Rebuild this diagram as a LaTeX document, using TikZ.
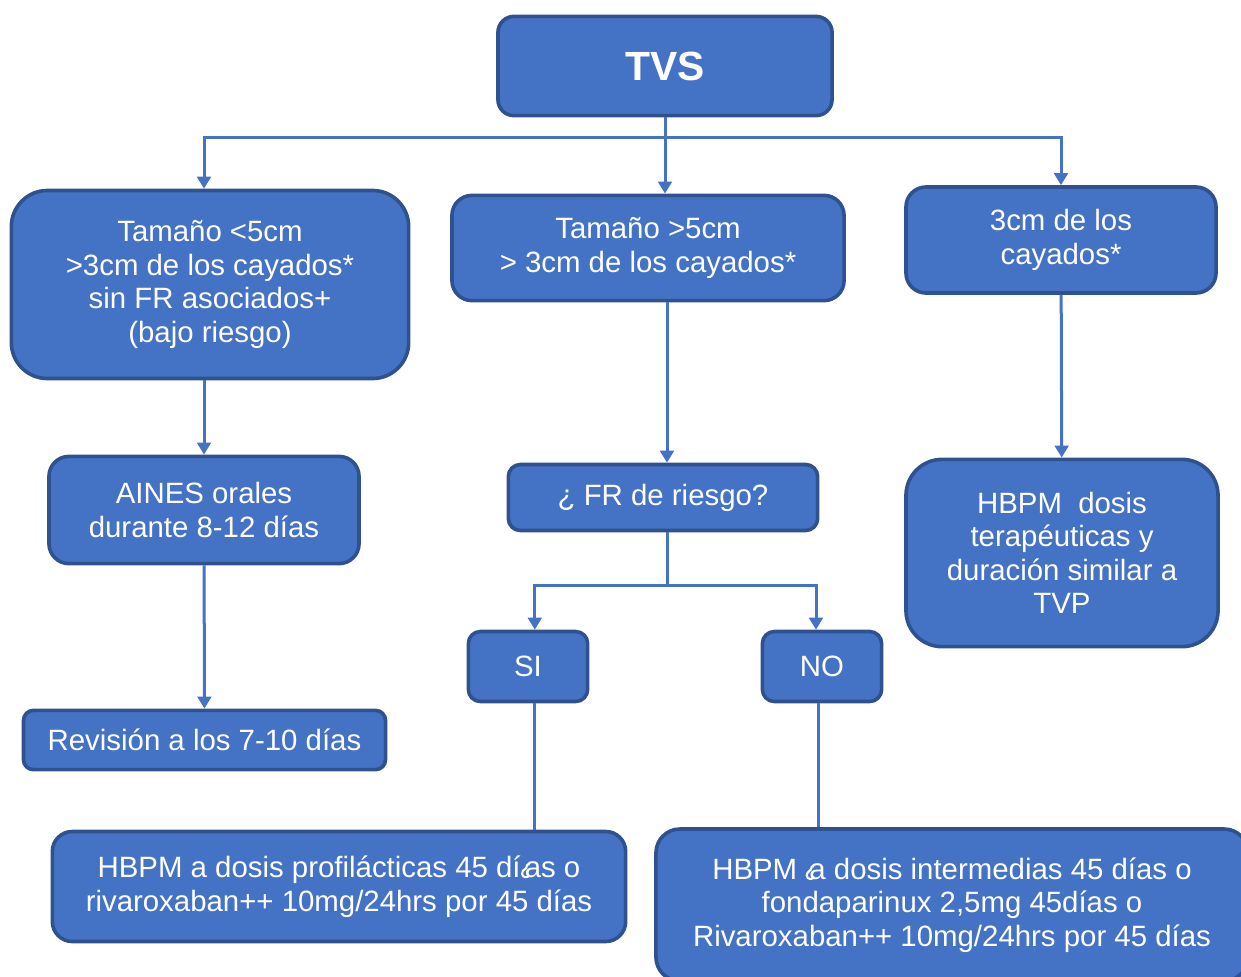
\documentclass[tikz,border=0pt]{standalone}
\usepackage{fontspec}
\setmainfont{Liberation Sans}
\usetikzlibrary{arrows.meta}
\definecolor{boxblue}{HTML}{4472C4}
\definecolor{edgeblue}{HTML}{2F528F}
\newsavebox\hookbox
\sbox\hookbox{\tikz[baseline=0pt, x=20pt, y=20pt]\draw[white, line width=1.5pt, line cap=round]
  (0.22,0.45) .. controls (0.22,0.27) and (0.03,0.3) .. (0.04,0.13) .. controls (0.06,-0.02) and (0.24,-0.01) .. (0.3,0.07);}
\newcommand\oddglyph{\usebox\hookbox\kern-4pt a}
\tikzset{
        box/.style={draw=edgeblue, fill=boxblue, line width=0.9mm, text=white, align=center,
          font=\fontsize{20.9}{23.8}\selectfont, inner sep=2pt},
        conn/.style={draw=boxblue, line width=0.75mm},
        arr/.style={conn, -{Triangle[width=3.4mm, length=3mm]}}
          }
\begin{document}
\begin{tikzpicture}[x=0.025cm, y=-0.025cm]
            \useasboundingbox (0,0) rectangle (1241,976);
            \node[box, rounded corners=4mm, minimum width=8.35cm, minimum height=2.48cm,
              font=\fontsize{29}{35}\selectfont\bfseries] (tvs) at (665,66) {TVS};
            \node[box, rounded corners=9mm, minimum width=9.93cm, minimum height=4.7cm] (lowrisk) at (210,284.5)
              {Tamaño <5cm\\>3cm de los cayados*\\sin FR asociados+\\(bajo riesgo)};
            \node[box, rounded corners=5mm, minimum width=9.8cm, minimum height=2.63cm] (big) at (648,248)
              {Tamaño >5cm\\> 3cm de los cayados*};
            \node[box, rounded corners=5mm, minimum width=7.75cm, minimum height=2.65cm] (near) at (1061,240)
              {3cm de los\\cayados*};
            \node[box, rounded corners=5mm, minimum width=7.75cm, minimum height=2.68cm] (aines) at (204,510)
              {AINES orales\\durante 8-12 días};
            \node[box, rounded corners=3mm, minimum width=7.73cm, minimum height=1.65cm] (fr) at (663,497.5)
              {¿ FR de riesgo?};
            \node[box, rounded corners=9mm, minimum width=7.8cm, minimum height=4.68cm] (terap) at (1062,553)
              {HBPM\ \ dosis\\terapéuticas y\\duración similar a\\TVP};
            \node[box, rounded corners=3mm, minimum width=2.98cm, minimum height=1.75cm] (si) at (528,666.5) {SI};
            \node[box, rounded corners=3mm, minimum width=2.98cm, minimum height=1.75cm] (no) at (822,666.5) {NO};
            \node[box, rounded corners=2.5mm, minimum width=9.05cm, minimum height=1.48cm] (rev) at (204.5,740)
              {Revisión a los 7-10 días};
            \node[box, rounded corners=5mm, minimum width=14.33cm, minimum height=2.75cm] (prof) at (339,886.5)
              {HBPM a dosis profilácticas 45 dí\oddglyph s o\\rivaroxaban++ 10mg/24hrs por 45 días};
            \node[box, rounded corners=6mm, minimum width=14.8cm, minimum height=3.8cm] (inter) at (952,905)
              {HBPM \oddglyph\ dosis intermedias 45 días o\\fondaparinux 2,5mg 45días o\\Rivaroxaban++ 10mg/24hrs por 45 días};
            \coordinate (hub) at (665,137.5);
            \coordinate (split) at (667,585);
            \draw[conn] (tvs) -- (hub);
            \draw[arr] (hub) -| (lowrisk.north -| aines.north);
            \draw[arr] (hub) -- (hub |- big.north);
            \draw[arr] (hub) -| (near.north);
            \draw[arr] (aines.north |- lowrisk.south) -- (aines.north);
            \draw[arr] (aines) -- (rev);
            \draw[arr] (big.south -| split) -- (fr.north -| split);
            \draw[arr] (near) -- (terap);
            \draw[conn] (fr.south -| split) -- (split);
            \draw[arr] (split) -| ([xshift=0.17cm]si.north);
            \draw[arr] (split) -| ([xshift=-0.15cm]no.north);
            \draw[conn] ([xshift=0.17cm]si.south) -- ([xshift=0.17cm]si.south |- prof.north);
            \draw[conn] ([xshift=-0.1cm]no.south) -- ([xshift=-0.1cm]no.south |- inter.north);
          \end{tikzpicture}
\end{document}
